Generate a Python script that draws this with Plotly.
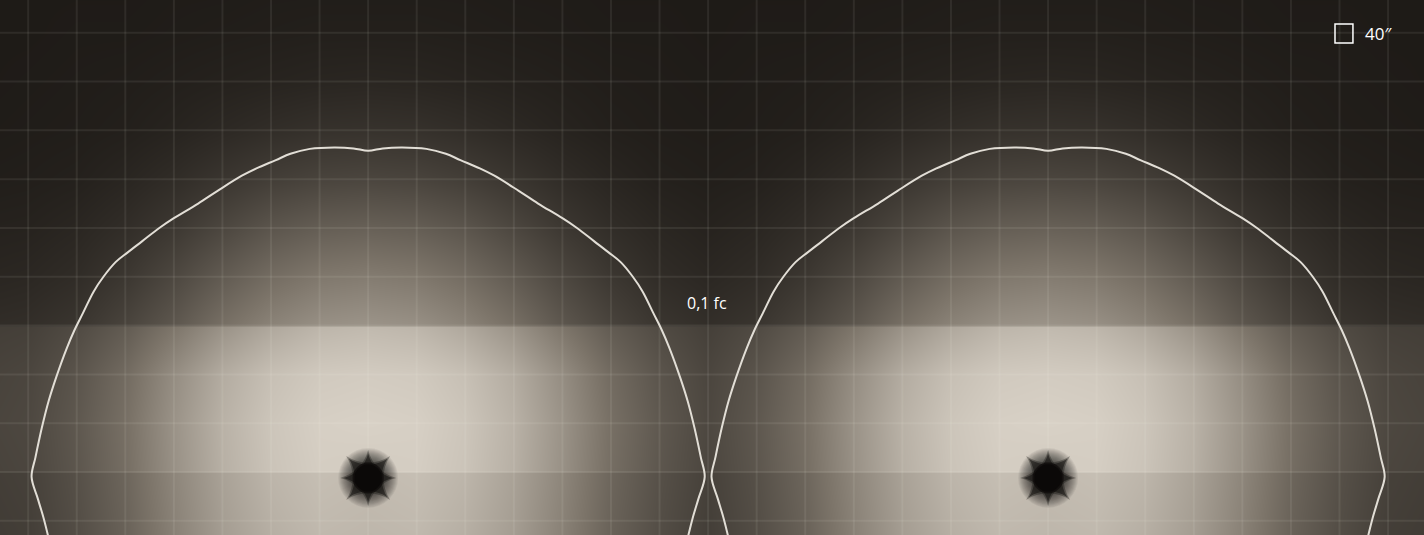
import plotly.graph_objects as go

# luminaire positions (grid units, 1 unit = 40")
LUM_X = [0, 14]
LUM_Y = [-0.12, -0.12]

# brightness tile for one luminaire, half profile (distance from luminaire in x)
TILE_DX = [0, 1, 2, 3, 4, 5, 6, 7, 8]
TILE_Y = [-1.5, -0.02, 0.02, 1, 2, 2.98, 3.02, 4, 5, 6, 7, 8, 9, 10]
TILE_Z = [
    [186, 188, 178, 160, 132, 100, 79, 64, 60],
    [192, 195, 186, 166, 138, 105, 83, 67, 63],
    [208, 210, 200, 180, 149, 113, 89, 72, 68],
    [214, 212, 202, 182, 151, 115, 91, 74, 70],
    [208, 206, 196, 176, 145, 110, 87, 72, 68],
    [190, 186, 172, 150, 121, 94, 77, 66, 64],
    [152, 148, 135, 115, 90, 70, 55, 48, 46],
    [128, 124, 112, 94, 74, 57, 46, 41, 39],
    [100, 97, 88, 73, 58, 47, 40, 36, 35],
    [72, 70, 64, 55, 46, 39, 34, 32, 31],
    [52, 51, 47, 42, 37, 33, 31, 30, 29],
    [40, 39, 37, 35, 33, 31, 30, 29, 28],
    [33, 33, 32, 31, 30, 29, 29, 28, 28],
    [30, 30, 30, 29, 29, 28, 28, 28, 28],
]

# 0,1 fc isoline, right half (dx, y) relative to luminaire; mirrored for left half
ISO_DX = [0, 0.3, 0.7, 1.2, 1.6, 1.9, 2.3, 2.6, 3.1, 3.5, 4.0, 4.3, 4.65, 4.95,
          5.2, 5.45, 5.65, 5.87, 6.05, 6.2, 6.42, 6.58, 6.72, 6.85, 6.93, 6.8,
          6.68, 6.58]
ISO_Y = [6.58, 6.63, 6.65, 6.62, 6.52, 6.39, 6.22, 6.07, 5.76, 5.5, 5.2, 5.0,
         4.73, 4.5, 4.3, 4.0, 3.7, 3.26, 2.9, 2.55, 1.95, 1.45, 0.9, 0.3, -0.1,
         -0.55, -0.95, -1.35]

X_RANGE = [-7.58, 21.74]
Y_RANGE = [-1.29, 9.67]

# full-width field: left luminaire tile on the left, right tile on the right
grid_x = list(range(-8, 23))
z = []
for row in TILE_Z:
    z.append([row[min(abs(x - LUM_X[0]), 8)] if x <= 7 else row[min(abs(x - LUM_X[1]), 8)]
              for x in grid_x])

colorscale = [
    [0.0, "rgb(22,19,16)"],
    [0.5, "rgb(124,116,105)"],
    [1.0, "rgb(222,215,204)"],
]

fig = go.Figure()

fig.add_trace(go.Heatmap(
    x=grid_x, y=TILE_Y, z=z,
    zmin=20, zmax=220,
    colorscale=colorscale, zsmooth="best",
    showscale=False, hoverinfo="skip",
))

# grid lines on top of the field
gx, gy = [], []
for k in range(-8, 23):
    gx += [k, k, None]
    gy += [-3, 11, None]
for k in range(-2, 11):
    gx += [-9, 23, None]
    gy += [k, k, None]
fig.add_trace(go.Scatter(
    x=gx, y=gy, mode="lines",
    line=dict(color="rgba(255,250,240,0.075)", width=2),
    hoverinfo="skip",
))

# luminaire dark spot (soft halo + blurred star core)
for size in range(60, 34, -2):
    fig.add_trace(go.Scatter(
        x=LUM_X, y=LUM_Y, mode="markers",
        marker=dict(size=size, color="black", opacity=0.055, line=dict(width=0)),
        hoverinfo="skip",
    ))
for sym, size, op in [("star-square", 40, 0.3), ("star-diamond", 40, 0.3),
                      ("star-square", 35, 0.5), ("star-diamond", 35, 0.5),
                      ("circle", 31, 0.6), ("circle", 27, 0.9)]:
    fig.add_trace(go.Scatter(
        x=LUM_X, y=LUM_Y, mode="markers",
        marker=dict(symbol=sym, size=size, color="#0b0908", opacity=op, line=dict(width=0)),
        hoverinfo="skip",
    ))

# isolines
for cx in LUM_X:
    xs = [cx - d for d in ISO_DX[::-1]] + [cx + d for d in ISO_DX[1:]]
    ys = ISO_Y[::-1] + ISO_Y[1:]
    fig.add_trace(go.Scatter(
        x=xs, y=ys, mode="lines",
        line=dict(color="#e2ded6", width=2, shape="spline", smoothing=1.0),
        hoverinfo="skip",
    ))

fig.add_annotation(
    x=6.98, y=3.46, text="0,1 fc", showarrow=False,
    font=dict(family="Open Sans", size=16, color="white"),
)

# scale legend
fig.add_shape(
    type="rect", xref="paper", yref="paper",
    x0=0.9375, x1=0.9501, y0=0.9196, y1=0.9551,
    line=dict(color="white", width=1.5),
)
fig.add_annotation(
    xref="paper", yref="paper", x=0.957, y=0.938,
    xanchor="left", yanchor="middle", text="40″", showarrow=False,
    font=dict(family="Open Sans", size=17, color="white"),
)

fig.update_xaxes(range=X_RANGE, visible=False)
fig.update_yaxes(range=Y_RANGE, visible=False)
fig.update_layout(
    width=1424, height=535,
    margin=dict(l=0, r=0, t=0, b=0),
    showlegend=False,
    paper_bgcolor="#1e1b18", plot_bgcolor="#1e1b18",
)

fig.write_html("out.html", config={"displayModeBar": False},
               post_script="document.body.style.margin='0';")
